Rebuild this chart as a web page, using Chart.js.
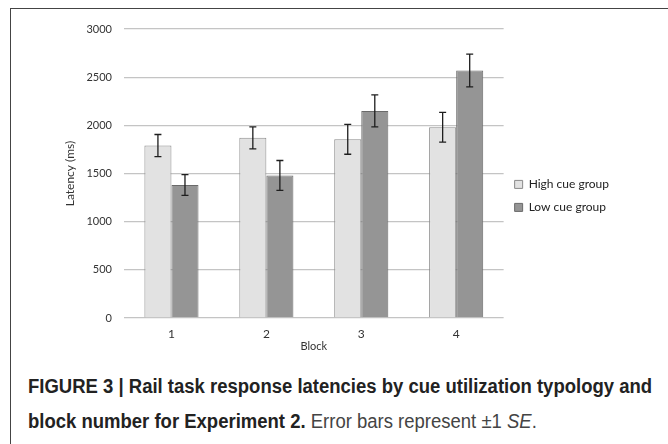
<!DOCTYPE html>
<html>
<head>
<meta charset="utf-8">
<script src="https://cdn.jsdelivr.net/npm/chart.js@4"></script>
<style>
  body { margin: 0; background: #fff; width: 668px; height: 444px; overflow: hidden; }
  #frame { position: absolute; left: 10px; top: 8px; width: 670px; height: 450px;
           border-left: 1.5px solid #444; border-top: 1.5px solid #444; }
  #wrap { position: absolute; left: 11px; top: 9px; width: 657px; height: 352px; }
  #caption { position: absolute; left: 28px; top: 369px; width: 700px;
             font-family: "Liberation Sans", Arial, sans-serif;
             font-size: 20px; line-height: 35px; color: #222;
             transform: scaleX(0.925); transform-origin: left top; white-space: nowrap; }
  #caption .light { color: #444; }
</style>
</head>
<body>
<div id="frame"></div>
<div id="wrap"><canvas id="latencyChart"></canvas></div>
<div id="caption"><b>FIGURE 3 | Rail task response latencies by cue utilization typology and<br>block number for Experiment 2.</b> <span class="light">Error bars represent ±1 <i>SE</i>.</span></div>
<script>
const blocks = ["1", "2", "3", "4"];
const highCue = [1790, 1870, 1855, 1980];
const highCueSE = [115, 115, 155, 155];
const lowCue = [1380, 1480, 2150, 2570];
const lowCueSE = [108, 155, 167, 170];
const yTicks = [0, 500, 1000, 1500, 2000, 2500, 3000];

const errors = [highCueSE, lowCueSE];

// draws the +-1 SE whiskers on top of the bars
const errorBars = {
  id: "errorBars",
  afterDatasetsDraw(chart) {
    const ctx = chart.ctx;
    const y = chart.scales.y;
    ctx.save();
    ctx.strokeStyle = "#1e1e1e";
    ctx.lineWidth = 1.3;
    chart.data.datasets.forEach((ds, di) => {
      const meta = chart.getDatasetMeta(di);
      meta.data.forEach((bar, i) => {
        const v = ds.data[i];
        const e = errors[di][i];
        const top = y.getPixelForValue(v + e);
        const bot = y.getPixelForValue(v - e);
        ctx.beginPath();
        ctx.moveTo(bar.x, top);
        ctx.lineTo(bar.x, bot);
        ctx.moveTo(bar.x - 3.5, top);
        ctx.lineTo(bar.x + 3.5, top);
        ctx.moveTo(bar.x - 3.5, bot);
        ctx.lineTo(bar.x + 3.5, bot);
        ctx.stroke();
      });
    });
    ctx.restore();
  },
};

Chart.defaults.font.family = "Lato, 'Open Sans', sans-serif";
Chart.defaults.color = "#333";

const ctx = document.getElementById("latencyChart").getContext("2d");
const latencyChart = new Chart(ctx, {
  type: "bar",
  data: {
    labels: blocks,
    datasets: [
      {
        label: "High cue group",
        data: highCue,
        backgroundColor: "#e2e2e2",
        borderColor: "#8a8a8a",
        borderWidth: 1,
      },
      {
        label: "Low cue group",
        data: lowCue,
        backgroundColor: "#959595",
        borderColor: "#6a6a6a",
        borderWidth: 1,
      },
    ],
  },
  options: {
    responsive: true,
    maintainAspectRatio: false,
    animation: false,
    layout: { padding: { left: 48, top: 20, right: 49, bottom: 9 } },
    datasets: {
      bar: { categoryPercentage: 0.57, barPercentage: 1.0 },
    },
    scales: {
      x: {
        grid: { display: false, drawTicks: false },
        border: { display: false },
        ticks: { font: { size: 12, lineHeight: 1 }, padding: 10 },
        title: { display: true, text: "Block", font: { size: 11, lineHeight: 1 }, padding: { top: -9, bottom: 0 } },
      },
      y: {
        min: 0,
        max: 3000,
        afterBuildTicks(s) { s.ticks = yTicks.map((v) => ({ value: v })); },
        grid: { color: "#c4c4c4", lineWidth: 1.3, drawTicks: false },
        border: { display: false },
        ticks: { font: { size: 11 }, padding: 12, callback: (v) => String(v) },
        title: { display: true, text: "Latency (ms)", font: { size: 12 }, padding: { bottom: 5 } },
        afterFit(s) { s.width = 65; },
      },
    },
    plugins: {
      legend: {
        position: "right",
        title: { display: true, text: " ", font: { size: 9 }, padding: 0 },
        labels: {
          boxWidth: 8,
          boxHeight: 8,
          padding: 11,
          font: { size: 12 },
          color: "#222",
        },
      },
      tooltip: { enabled: false },
    },
  },
  plugins: [errorBars],
});
</script>
</body>
</html>
